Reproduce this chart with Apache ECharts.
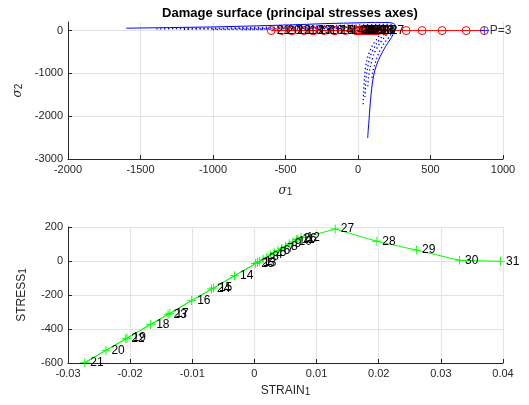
<!DOCTYPE html>
<html><head><meta charset="utf-8">
<script src="https://cdn.jsdelivr.net/npm/echarts@6/dist/echarts.min.js"></script>
<style>html,body{margin:0;padding:0;background:#fff}#c{width:529px;height:405px}</style>
</head><body><div id="c"></div>
<script>
// ---- data ----
const stepLabels = ['1','2','3','4','5','6','7','8','9','10','11','12','13','14','15','16','17','18','19','20','21','22','23','24','25','26','27','28','29','30','31'];
const strain1 = [0.0008,0.0014,0.0020,0.0026,0.0032,0.0038,0.0044,0.0050,0.0056,0.0062,0.0068,0.0075,0.0005,-0.0032,-0.0066,-0.0101,-0.0136,-0.0167,-0.0205,-0.0239,-0.0273,-0.0207,-0.0139,-0.0069,0.0002,0.0070,0.0130,0.0197,0.0261,0.0330,0.0396];
const stress1 = [-2,11,23,36,49,62,74,87,100,112,125,140,-8,-87,-159,-233,-307,-373,-454,-526,-598,-458,-314,-165,-15,129,188,116,64,4,-2];
const trialSigma1 = [332,442,580,746,871];
const currentPoint = [871,0];
const currentLabel = 'P=3';
const surfaceOuter = [[-1600,55],[-1300,70],[-1000,85],[-700,110],[-400,140],[-200,165],[0,180],[120,190],[200,190],[240,170],[258,120],[255,50],[240,-100],[220,-220],[190,-370],[166,-520],[140,-700],[117,-920],[100,-1200],[90,-1500],[82,-1800],[76,-2090],[71,-2300],[67,-2510]];
const surfaceD1 = [[-1390,40],[-1000,55],[-600,80],[-300,105],[0,130],[150,145],[215,140],[235,120],[245,60],[225,-100],[180,-300],[140,-550],[115,-800],[100,-1000],[95,-1150]];
const surfaceD2 = [[-1200,30],[-800,45],[-400,70],[0,100],[150,115],[200,110],[215,85],[220,40],[195,-100],[150,-300],[110,-550],[85,-850],[72,-1100],[68,-1300]];
const surfaceD3 = [[-1000,25],[-600,40],[-200,65],[0,80],[120,88],[175,80],[190,50],[195,20],[170,-120],[125,-320],[85,-600],[62,-950],[52,-1300],[48,-1550]];
const surfaceD4 = [[-800,20],[-400,35],[0,55],[100,62],[150,55],[165,30],[170,0],[140,-150],[95,-380],[60,-700],[45,-1100],[38,-1450],[35,-1780]];
const topYTicks = [-3000,-2000,-1000,0];

// ---- chart ----
const ax = '#262626', gridC = '#e3e3e3';
const FONT = 'Liberation Sans, Arial, Helvetica, sans-serif';
const plusPath = 'path://M-0.1,-1 H0.1 V1 H-0.1 Z M-1,-0.1 H1 V0.1 H-1 Z';
const plainFmt = v => String(Math.round(v*1000)/1000);
function valAxis(extra){
  return Object.assign({
    type:'value',
    axisLine:{show:true,onZero:false,lineStyle:{color:ax,width:1}},
    axisTick:{show:true,inside:true,length:4,lineStyle:{color:ax}},
    axisLabel:{color:ax,fontSize:11,fontFamily:FONT,margin:5,formatter:plainFmt},
    splitLine:{show:true,lineStyle:{color:gridC,width:1}},
    nameTextStyle:{color:ax,fontFamily:FONT,fontSize:12},
  }, extra);
}
const subRich = {
  a:{fontSize:12,fontFamily:FONT,color:ax,verticalAlign:'bottom'},
  g:{fontSize:12,fontFamily:'DejaVu Serif, serif',fontStyle:'italic',color:ax,verticalAlign:'bottom'},
  s:{fontSize:10,fontFamily:FONT,color:ax,verticalAlign:'bottom',padding:[6,0,0,0]}
};
const chart = echarts.init(document.getElementById('c'), null, {renderer:'canvas'});
const redPts = stress1.map((v,i)=>({value:[v,0],name:stepLabels[i]}));
const greenPts = strain1.map((v,i)=>({value:[v,stress1[i]],name:stepLabels[i]}));
const dotted = (d)=>({type:'line',xAxisIndex:0,yAxisIndex:0,data:d,showSymbol:false,symbol:'none',smooth:0.3,lineStyle:{color:'#0000ff',width:1.3,type:[1.3,2.6]},silent:true,animation:false,z:2});
chart.setOption({
  animation:false,
  title:{text:'Damage surface (principal stresses axes)',left:285,textAlign:'center',top:2,textStyle:{fontSize:13,fontWeight:'bold',color:'#000',fontFamily:FONT}},
  grid:[{left:68,right:26,top:22,height:137},{left:68,right:26,top:227,height:136}],
  xAxis:[
    valAxis({gridIndex:0,min:-2000,max:1000,interval:500,name:'{g|σ}{s|1}',nameLocation:'middle',nameGap:22,nameTextStyle:{rich:subRich}}),
    valAxis({gridIndex:1,min:-0.03,max:0.04,interval:0.01,name:'{a|STRAIN}{s|1}',nameLocation:'middle',nameGap:18,nameTextStyle:{rich:subRich}})
  ],
  yAxis:[
    valAxis({gridIndex:0,min:-3000,max:200,interval:1000,name:'{g|σ}{s|2}',nameLocation:'middle',nameGap:44,nameTextStyle:{rich:subRich},
      axisTick:{show:true,inside:true,length:4,lineStyle:{color:ax},customValues:topYTicks},
      axisLabel:{color:ax,fontSize:11,fontFamily:FONT,margin:5,customValues:topYTicks,formatter:plainFmt}}),
    valAxis({gridIndex:1,min:-600,max:200,interval:200,name:'{a|STRESS}{s|1}',nameLocation:'middle',nameGap:40,nameTextStyle:{rich:subRich}})
  ],
  series:[
    {type:'line',xAxisIndex:0,yAxisIndex:0,data:surfaceOuter,showSymbol:false,symbol:'none',smooth:0.3,lineStyle:{color:'#0000ff',width:1},z:3},
    dotted(surfaceD1),dotted(surfaceD2),dotted(surfaceD3),dotted(surfaceD4),
    {type:'line',xAxisIndex:0,yAxisIndex:0,data:[[stress1[26],0]].concat(trialSigma1.map(v=>[v,0])),symbol:'circle',symbolSize:8,
      itemStyle:{color:'rgba(0,0,0,0)',borderColor:'#ff0000',borderWidth:1},lineStyle:{color:'#ff0000',width:1},z:4},
    {type:'line',xAxisIndex:0,yAxisIndex:0,data:redPts,symbol:'circle',symbolSize:8,
      itemStyle:{color:'rgba(0,0,0,0)',borderColor:'#ff0000',borderWidth:1},lineStyle:{color:'#ff0000',width:1},
      label:{show:true,position:'right',distance:1,formatter:'{b}',color:'#000',fontSize:12,fontFamily:FONT},z:5},
    {type:'scatter',xAxisIndex:0,yAxisIndex:0,data:[{value:currentPoint,name:currentLabel}],symbol:plusPath,symbolSize:9,itemStyle:{color:'#0000ff'},
      label:{show:true,position:'right',distance:1,formatter:'{b}',color:'#000',fontSize:12,fontFamily:FONT},z:6},
    {type:'line',xAxisIndex:1,yAxisIndex:1,data:greenPts,symbol:plusPath,symbolSize:9,itemStyle:{color:'#00ff00'},lineStyle:{color:'#00ff00',width:1},
      label:{show:true,position:'right',distance:1,formatter:'{b}',color:'#000',fontSize:12,fontFamily:FONT},z:5}
  ]
});
</script></body></html>
